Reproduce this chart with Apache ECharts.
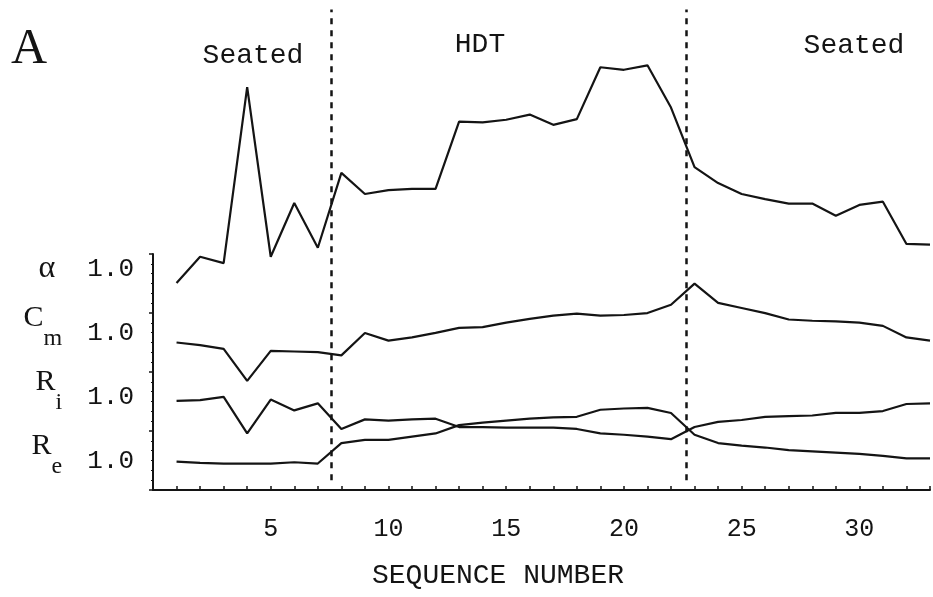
<!DOCTYPE html>
<html>
<head>
<meta charset="utf-8">
<script src="https://cdn.jsdelivr.net/npm/echarts@6/dist/echarts.min.js"></script>
<style>
  html, body { margin: 0; padding: 0; background: #fff; }
  #chart { width: 933px; height: 597px; }
</style>
</head>
<body>
<div id="chart"></div>
<script>
// sequence numbers on the x axis
var seqNumbers = [1, 2, 3, 4, 5, 6, 7, 8, 9, 10, 11, 12, 13, 14, 15, 16, 17,
    18, 19, 20, 21, 22, 23, 24, 25, 26, 27, 28, 29, 30, 31, 32, 33];

// traces as plotted (stacked, each with its own 1.0 level)
var alphaVals = [3.78, 4.19, 4.09, 6.84, 4.19, 5.03, 4.33, 5.50, 5.17, 5.23, 5.25,
    5.25, 6.30, 6.29, 6.33, 6.41, 6.25, 6.34, 7.15, 7.11, 7.18, 6.52, 5.59, 5.34,
    5.17, 5.09, 5.02, 5.02, 4.83, 5.00, 5.05, 4.39, 4.38];
var cmVals = [2.85, 2.81, 2.75, 2.25, 2.72, 2.71, 2.70, 2.65, 3.00, 2.88, 2.93,
    3.00, 3.08, 3.09, 3.16, 3.22, 3.27, 3.30, 3.27, 3.28, 3.31, 3.44, 3.77, 3.47,
    3.39, 3.31, 3.21, 3.19, 3.18, 3.16, 3.11, 2.93, 2.88];
var riVals = [1.94, 1.95, 2.00, 1.43, 1.96, 1.79, 1.90, 1.50, 1.65, 1.63, 1.65,
    1.66, 1.53, 1.53, 1.52, 1.52, 1.52, 1.50, 1.43, 1.41, 1.38, 1.34, 1.53, 1.61,
    1.64, 1.69, 1.70, 1.71, 1.75, 1.75, 1.78, 1.89, 1.90];
var reVals = [0.99, 0.97, 0.96, 0.96, 0.96, 0.98, 0.96, 1.28, 1.33, 1.33, 1.38,
    1.43, 1.56, 1.60, 1.63, 1.66, 1.68, 1.69, 1.80, 1.82, 1.83, 1.75, 1.41, 1.28,
    1.24, 1.21, 1.17, 1.15, 1.13, 1.11, 1.08, 1.04, 1.04];

// trace names, index = level of their 1.0 mark
var traceSymbols = [null, ['R', 'e'], ['R', 'i'], ['C', 'm'], ['α', '']];

// phase boundaries (dashed lines) and phase names
var phaseBreaks = [7.55, 22.65];
var phaseNames = ['Seated', 'HDT', 'Seated'];

var ink = '#141414';
var mono = 'Liberation Mono';

function pairs(vals) {
    return seqNumbers.map(function (s, i) { return [s, vals[i]]; });
}

function phaseTitle(text, x, y) {
    return {
        text: text, left: x, top: y, textAlign: 'center', padding: 0,
        textStyle: { fontFamily: mono, fontSize: 28, fontWeight: 'normal', color: ink }
    };
}

var myChart = echarts.init(document.getElementById('chart'));

var option = {
    backgroundColor: '#fff',
    animation: false,
    title: [
        {
            text: 'A', left: 11, top: 25, padding: 0,
            textStyle: { fontFamily: 'Liberation Serif', fontSize: 50, fontWeight: 'normal', color: ink }
        },
        phaseTitle(phaseNames[0], 253, 42),
        phaseTitle(phaseNames[1], 480, 31),
        phaseTitle(phaseNames[2], 854, 32),
        phaseTitle('SEQUENCE NUMBER', 498, 562)
    ],
    grid: [
        // plotting area for the traces (no visible axes)
        { left: 153, right: 3, top: 0, bottom: 72 },
        // visible frame: x axis and short y axis
        { left: 153, right: 3, top: 254, bottom: 107 }
    ],
    xAxis: [
        { gridIndex: 0, type: 'value', min: 0, max: 33, show: false },
        {
            gridIndex: 1, type: 'value', min: 0, max: 33, interval: 1,
            axisLine: { lineStyle: { color: ink, width: 2 } },
            axisTick: { inside: true, length: 4, lineStyle: { color: ink, width: 1.5 } },
            splitLine: { show: false },
            axisLabel: {
                margin: 27, color: ink, fontFamily: mono, fontSize: 25,
                formatter: function (v) { return (v > 0 && v % 5 === 0) ? String(v) : ''; }
            }
        }
    ],
    yAxis: [
        {
            gridIndex: 0, type: 'value', min: 0, max: 8.2, interval: 1,
            axisLine: { show: false },
            axisTick: { show: false },
            splitLine: { show: false },
            axisLabel: {
                margin: 19,
                formatter: function (v) {
                    var s = traceSymbols[v];
                    if (!s) return '';
                    if (!s[1]) return '{g|' + s[0] + '}{gapw|}{n|1.0}';
                    return '{s|' + s[0] + '}{sub|' + s[1] + '}{gap|}{n|1.0}';
                },
                rich: {
                    s: { fontFamily: 'Liberation Serif', fontSize: 30, color: ink, lineHeight: 20, verticalAlign: 'top' },
                    sub: { fontFamily: 'Liberation Serif', fontSize: 24, color: ink, verticalAlign: 'middle', padding: [12, 0, 0, 0] },
                    g: { fontFamily: 'Liberation Serif', fontSize: 32, color: ink, lineHeight: 30, verticalAlign: 'middle' },
                    gap: { width: 25 },
                    gapw: { width: 32 },
                    n: { fontFamily: mono, fontSize: 26, color: ink, lineHeight: 60, verticalAlign: 'middle' }
                }
            }
        },
        {
            gridIndex: 1, type: 'value', min: 0, max: 4, interval: 1,
            axisLine: { lineStyle: { color: ink, width: 2 } },
            axisTick: { length: 4, lineStyle: { color: ink, width: 1.5 } },
            minorTick: { show: true, splitNumber: 6, length: 2, lineStyle: { color: ink } },
            splitLine: { show: false },
            axisLabel: { show: false }
        }
    ],
    series: [
        {
            name: 'α', type: 'line', xAxisIndex: 0, yAxisIndex: 0,
            data: pairs(alphaVals), symbol: 'none',
            lineStyle: { color: ink, width: 2.2 },
            markLine: {
                silent: true, symbol: 'none', label: { show: false },
                lineStyle: { color: ink, type: [6, 6], width: 2.5 },
                data: phaseBreaks.map(function (x) {
                    return [{ coord: [x, 0.7] }, { coord: [x, 8.05] }];
                })
            }
        },
        {
            name: 'Cm', type: 'line', xAxisIndex: 0, yAxisIndex: 0,
            data: pairs(cmVals), symbol: 'none',
            lineStyle: { color: ink, width: 2.2 }
        },
        {
            name: 'Ri', type: 'line', xAxisIndex: 0, yAxisIndex: 0,
            data: pairs(riVals), symbol: 'none',
            lineStyle: { color: ink, width: 2.2 }
        },
        {
            name: 'Re', type: 'line', xAxisIndex: 0, yAxisIndex: 0,
            data: pairs(reVals), symbol: 'none',
            lineStyle: { color: ink, width: 2.2 }
        }
    ]
};
myChart.setOption(option);
window.addEventListener('resize', function () {
    myChart.resize();
});
</script>
</body>
</html>
